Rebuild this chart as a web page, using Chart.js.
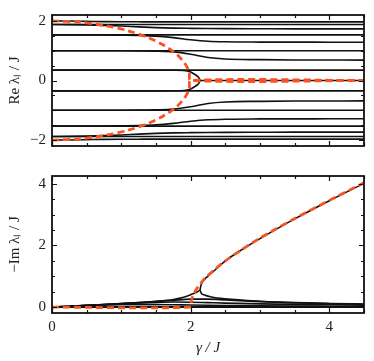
<!DOCTYPE html>
<html>
<head>
<meta charset="utf-8">
<script src="https://cdn.jsdelivr.net/npm/chart.js@4.4.1/dist/chart.umd.min.js"></script>
<style>
  html, body { margin: 0; padding: 0; background: #fff; }
  #wrap { position: relative; width: 374px; height: 361px; }
  canvas { position: absolute; left: 0; }
  #top { top: 0; }
  #bottom { top: 161px; }
</style>
</head>
<body>
<div id="wrap">
  <canvas id="top" width="374" height="161"></canvas>
  <canvas id="bottom" width="374" height="200"></canvas>
</div>
<script>
// gamma grid shared by most curves
const gammaGrid = [0, 0.25, 0.5, 0.75, 1, 1.25, 1.5, 1.75, 2, 2.25, 2.5, 3, 3.5, 4, 4.5];
const gammaEnds = [0, 4.5];

// ---- Re lambda / J ----
// levels that do not move with gamma
const reFlat = [1.879, 1.532, 1.0, 0.347, -0.347, -1.0, -1.532, -1.879];

const reTopA = [2.0, 1.996, 1.987, 1.978, 1.973, 1.971, 1.97, 1.97, 1.97, 1.97, 1.97, 1.97, 1.97, 1.97, 1.97];
const reTopB = [1.879, 1.877, 1.868, 1.852, 1.83, 1.80, 1.775, 1.76, 1.752, 1.746, 1.742, 1.738, 1.735, 1.734, 1.733];
const reTopC = [1.532, 1.531, 1.53, 1.527, 1.52, 1.51, 1.49, 1.44, 1.37, 1.32, 1.30, 1.29, 1.288, 1.287, 1.286];
const reTopD = [1.0, 1.0, 1.0, 0.999, 0.997, 0.993, 0.985, 0.96, 0.88, 0.77, 0.72, 0.70, 0.69, 0.687, 0.685];
const reBotA = [-2.0, -1.996, -1.987, -1.978, -1.973, -1.971, -1.97, -1.97, -1.97, -1.97, -1.97, -1.97, -1.97, -1.97, -1.97];
const reBotB = [-1.879, -1.877, -1.868, -1.852, -1.83, -1.80, -1.775, -1.76, -1.752, -1.746, -1.742, -1.738, -1.735, -1.734, -1.733];
const reBotC = [-1.532, -1.531, -1.53, -1.527, -1.52, -1.51, -1.49, -1.44, -1.37, -1.32, -1.30, -1.29, -1.288, -1.287, -1.286];
const reBotD = [-1.0, -1.0, -1.0, -0.999, -0.997, -0.993, -0.985, -0.96, -0.88, -0.77, -0.72, -0.70, -0.69, -0.687, -0.685];

// pair that meets at the exceptional point
const gammaEP = [0, 0.5, 1, 1.5, 1.75, 1.9, 1.95, 2.0, 2.05, 2.1, 2.125, 2.135];
const reEPTop = [0.347, 0.347, 0.347, 0.347, 0.344, 0.335, 0.32, 0.285, 0.22, 0.14, 0.065, 0];
const reEPBot = [-0.347, -0.347, -0.347, -0.347, -0.344, -0.335, -0.32, -0.285, -0.22, -0.14, -0.065, 0];
const gammaAfterEP = [2.135, 4.5];
const reAfterEP = [0, 0];

// orange dashed guide
const gammaGuideRe = [0, 0.4, 0.8, 1.1, 1.4, 1.6, 1.75, 1.85, 1.93, 1.98, 2.0, 4.5];
const reGuideTop = [2.0, 1.96, 1.83, 1.67, 1.43, 1.2, 0.97, 0.76, 0.52, 0.28, 0, 0];
const reGuideBot = [-2.0, -1.96, -1.83, -1.67, -1.43, -1.2, -0.97, -0.76, -0.52, -0.28, 0, 0];

// ---- -Im lambda / J ----
const imFlat = [0, 0];
const imA = [0, 0.014, 0.022, 0.024, 0.022, 0.019, 0.016, 0.013, 0.011, 0.009, 0.008, 0.006, 0.005, 0.004, 0.003];
const imB = [0, 0.027, 0.053, 0.075, 0.088, 0.09, 0.085, 0.077, 0.068, 0.06, 0.053, 0.043, 0.035, 0.03, 0.025];
const imC = [0, 0.028, 0.055, 0.083, 0.11, 0.135, 0.155, 0.165, 0.16, 0.145, 0.13, 0.105, 0.088, 0.075, 0.065];
const imD = [0, 0.028, 0.056, 0.085, 0.114, 0.145, 0.18, 0.22, 0.26, 0.26, 0.235, 0.18, 0.145, 0.12, 0.1];

const gammaImEP = [0, 0.5, 1, 1.5, 1.75, 1.9, 2.0, 2.05, 2.1, 2.135];
const imEP = [0, 0.056, 0.115, 0.19, 0.25, 0.32, 0.4, 0.45, 0.5, 0.56];
const gammaUp = [2.135, 2.15, 2.2, 2.3, 2.5, 2.75, 3, 3.5, 4, 4.5];
const imUp = [0.56, 0.72, 0.9, 1.1, 1.5, 1.88, 2.22, 2.86, 3.45, 4.01];
const gammaLow = [2.135, 2.15, 2.2, 2.3, 2.5, 3, 3.5, 4, 4.5];
const imLow = [0.56, 0.46, 0.39, 0.33, 0.27, 0.19, 0.14, 0.11, 0.09];

const gammaGuideIm = [0, 2, 2.01, 2.04, 2.1, 2.2, 2.3, 2.5, 2.75, 3, 3.5, 4, 4.5];
const imGuide = [0, 0, 0.2, 0.4, 0.64, 0.92, 1.13, 1.5, 1.88, 2.24, 2.87, 3.46, 4.03];

// ticks
const xMajor = [0, 2, 4];
const reMajor = [-2, 0, 2];
const imMajor = [0, 2, 4];

const FONT = 'Liberation Serif';
const ORANGE = '#fb5320';

function curve(xs, ys) {
  return {
    data: xs.map((x, i) => ({ x, y: ys[i] })),
    borderColor: '#111',
    borderWidth: 1.6,
    pointRadius: 0,
    cubicInterpolationMode: 'monotone',
    order: 1
  };
}

function guide(xs, ys) {
  return {
    data: xs.map((x, i) => ({ x, y: ys[i] })),
    borderColor: ORANGE,
    borderWidth: 2.8,
    borderDash: [7, 4],
    pointRadius: 0,
    tension: 0.3,
    order: 0
  };
}

// frame + inward ticks, every 0.5 with longer majors
const frameTicks = {
  id: 'frameTicks',
  afterDraw(chart) {
    const { ctx, chartArea: a, scales: { x, y } } = chart;
    ctx.save();
    ctx.strokeStyle = '#111';
    ctx.lineWidth = 1.2;
    ctx.beginPath();
    for (let v = x.min; v <= x.max + 1e-9; v += 0.5) {
      const px = Math.round(x.getPixelForValue(v)) + 0.5;
      const len = xMajor.includes(v) ? 5 : 3;
      ctx.moveTo(px, a.top); ctx.lineTo(px, a.top + len);
      ctx.moveTo(px, a.bottom); ctx.lineTo(px, a.bottom - len);
    }
    const majors = chart.canvas.id === 'top' ? reMajor : imMajor;
    for (let v = Math.ceil(y.min * 2) / 2; v <= y.max + 1e-9; v += 0.5) {
      const py = Math.round(y.getPixelForValue(v)) + 0.5;
      const len = majors.includes(v) ? 5 : 3;
      ctx.moveTo(a.left, py); ctx.lineTo(a.left + len, py);
      ctx.moveTo(a.right, py); ctx.lineTo(a.right - len, py);
    }
    ctx.stroke();
    ctx.lineWidth = 1.8;
    ctx.strokeRect(a.left, a.top, a.right - a.left, a.bottom - a.top);
    ctx.restore();
  }
};

function yAxis(min, max, majors, title, titlePad) {
  return {
    type: 'linear',
    min, max,
    grid: { display: false, drawTicks: false },
    border: { display: false },
    afterFit: s => { s.width = 52; },
    afterBuildTicks: s => { s.ticks = majors.map(v => ({ value: v })); },
    ticks: {
      color: '#222',
      padding: 6,
      font: { family: FONT, size: 15 },
      callback: v => String(v).replace('-', '\u2212')
    },
    title: {
      display: true,
      text: title,
      color: '#222',
      font: { family: FONT, size: 15 },
      padding: { top: titlePad, bottom: 0 }
    }
  };
}

const baseOpts = {
  responsive: false,
  animation: false,
  events: [],
  plugins: { legend: { display: false }, tooltip: { enabled: false } }
};

new Chart(document.getElementById('top'), {
  type: 'line',
  data: {
    datasets: [
      guide(gammaGuideRe, reGuideTop),
      guide(gammaGuideRe, reGuideBot),
      ...reFlat.map(v => curve(gammaEnds, [v, v])),
      curve(gammaGrid, reTopA), curve(gammaGrid, reTopB),
      curve(gammaGrid, reTopC), curve(gammaGrid, reTopD),
      curve(gammaGrid, reBotA), curve(gammaGrid, reBotB),
      curve(gammaGrid, reBotC), curve(gammaGrid, reBotD),
      curve(gammaEP, reEPTop), curve(gammaEP, reEPBot),
      curve(gammaAfterEP, reAfterEP)
    ]
  },
  options: {
    ...baseOpts,
    layout: { padding: { top: 10, right: 10, bottom: 4, left: 0 } },
    scales: {
      x: { type: 'linear', min: 0, max: 4.5, display: false },
      y: yAxis(-2.2, 2.2, reMajor, 'Re \u03bb\u2097 / J', 6)
    }
  },
  plugins: [frameTicks]
});

new Chart(document.getElementById('bottom'), {
  type: 'line',
  data: {
    datasets: [
      guide(gammaGuideIm, imGuide),
      curve(gammaEnds, imFlat),
      curve(gammaGrid, imA), curve(gammaGrid, imB),
      curve(gammaGrid, imC), curve(gammaGrid, imD),
      curve(gammaImEP, imEP), curve(gammaUp, imUp), curve(gammaLow, imLow)
    ]
  },
  options: {
    ...baseOpts,
    layout: { padding: { top: 5, right: 10, bottom: 0, left: 0 } },
    scales: {
      x: {
        type: 'linear',
        min: 0, max: 4.5,
        grid: { display: false, drawTicks: false },
        border: { display: false },
        afterFit: s => { s.height = 48; },
        afterBuildTicks: s => { s.ticks = xMajor.map(v => ({ value: v })); },
        ticks: { color: '#222', padding: 5, maxRotation: 0, font: { family: FONT, size: 15 } },
        title: {
          display: true,
          text: '\u03b3 / J',
          color: '#222',
          font: { family: FONT, size: 15, style: 'italic' },
          padding: { top: 0, bottom: 4 }
        }
      },
      y: yAxis(-0.19, 4.25, imMajor, '\u2212Im \u03bb\u2097 / J', 6)
    }
  },
  plugins: [frameTicks]
});
</script>
</body>
</html>
